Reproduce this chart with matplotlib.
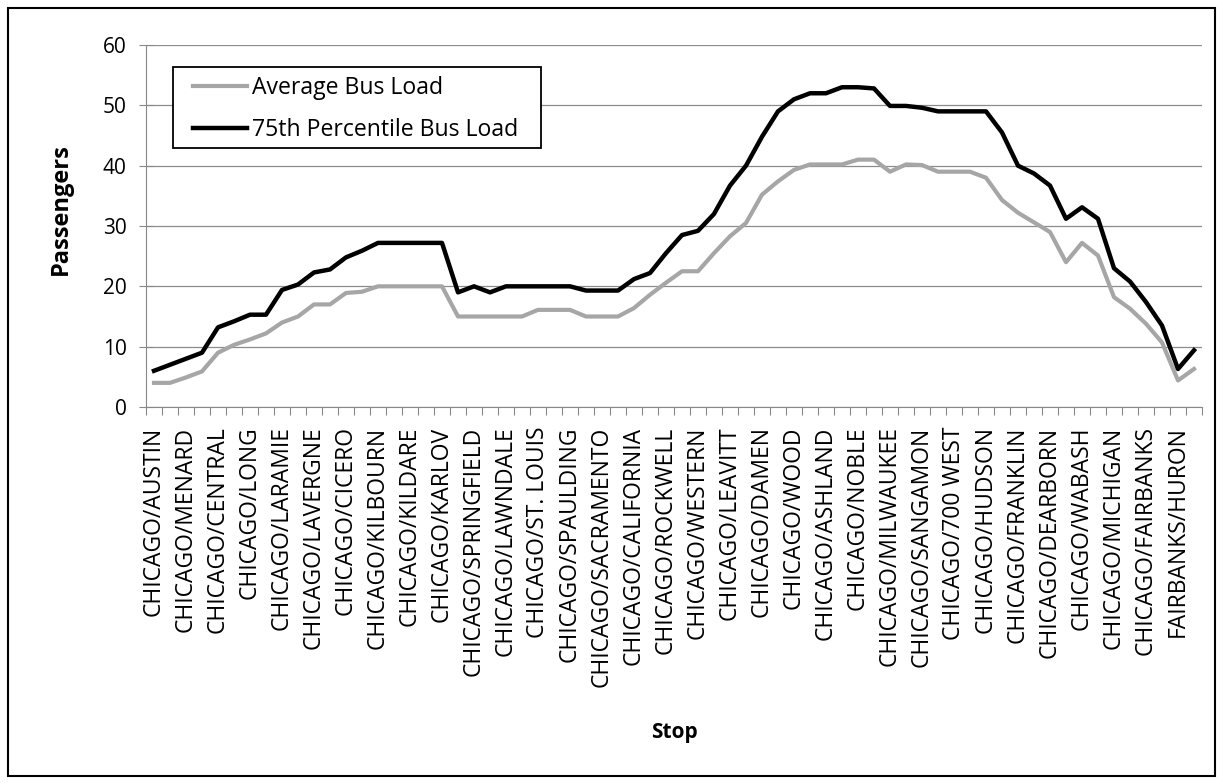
import numpy as np
import matplotlib
matplotlib.use("Agg")
import matplotlib.pyplot as plt
from matplotlib.patches import Rectangle

plt.rcParams['font.family'] = ['Open Sans', 'DejaVu Sans']

# Labelled stops (every other stop carries a label on the category axis)
stop_labels = [
    "CHICAGO/AUSTIN", "CHICAGO/MENARD", "CHICAGO/CENTRAL", "CHICAGO/LONG",
    "CHICAGO/LARAMIE", "CHICAGO/LAVERGNE", "CHICAGO/CICERO", "CHICAGO/KILBOURN",
    "CHICAGO/KILDARE", "CHICAGO/KARLOV", "CHICAGO/SPRINGFIELD", "CHICAGO/LAWNDALE",
    "CHICAGO/ST. LOUIS", "CHICAGO/SPAULDING", "CHICAGO/SACRAMENTO", "CHICAGO/CALIFORNIA",
    "CHICAGO/ROCKWELL", "CHICAGO/WESTERN", "CHICAGO/LEAVITT", "CHICAGO/DAMEN",
    "CHICAGO/WOOD", "CHICAGO/ASHLAND", "CHICAGO/NOBLE", "CHICAGO/MILWAUKEE",
    "CHICAGO/SANGAMON", "CHICAGO/700 WEST", "CHICAGO/HUDSON", "CHICAGO/FRANKLIN",
    "CHICAGO/DEARBORN", "CHICAGO/WABASH", "CHICAGO/MICHIGAN", "CHICAGO/FAIRBANKS",
    "FAIRBANKS/HURON",
]

average_load = [
    4.0, 4.0, 4.9, 5.9, 9.0, 10.3, 11.2, 12.2, 14.0, 15.0,
    17.0, 17.0, 18.9, 19.1, 20.0, 20.0, 20.0, 20.0, 20.0, 15.0,
    15.0, 15.0, 15.0, 15.0, 16.1, 16.1, 16.1, 15.0, 15.0, 15.0,
    16.4, 18.6, 20.6, 22.5, 22.5, 25.5, 28.3, 30.5, 35.2, 37.4,
    39.3, 40.2, 40.2, 40.2, 41.0, 41.0, 39.0, 40.2, 40.1, 39.0,
    39.0, 39.0, 38.0, 34.3, 32.2, 30.6, 29.0, 24.0, 27.2, 25.1,
    18.2, 16.3, 13.8, 10.7, 4.4, 6.3,
]

p75_load = [
    6.0, 7.0, 8.0, 9.0, 13.2, 14.2, 15.3, 15.3, 19.4, 20.3,
    22.3, 22.8, 24.8, 25.9, 27.2, 27.2, 27.2, 27.2, 27.2, 19.0,
    20.0, 19.0, 20.0, 20.0, 20.0, 20.0, 20.0, 19.3, 19.3, 19.3,
    21.2, 22.2, 25.5, 28.5, 29.2, 32.0, 36.7, 40.0, 44.8, 49.0,
    51.0, 52.0, 52.0, 53.0, 53.0, 52.8, 49.9, 49.9, 49.6, 49.0,
    49.0, 49.0, 49.0, 45.5, 40.0, 38.7, 36.7, 31.2, 33.1, 31.2,
    23.0, 20.8, 17.4, 13.5, 6.3, 9.4,
]

y_ticks = [0, 10, 20, 30, 40, 50, 60]

n = len(average_load)
x = np.arange(n)

W, H = 1223, 784
L, R, T, B = 146, 1202, 45, 407
fig = plt.figure(figsize=(W / 100, H / 100), dpi=100)
fig.patch.set_facecolor('white')
ax = fig.add_axes([L / W, 1 - B / H, (R - L) / W, (B - T) / H])


def ax_x(px):
    return (px - L) / (R - L)


def ax_y(py):
    return (B - py) / (B - T)


ax.plot(x, average_load, color='#a6a6a6', lw=3.0, label='Average Bus Load',
        solid_joinstyle='round', zorder=3)
ax.plot(x, p75_load, color='black', lw=3.2, label='75th Percentile Bus Load',
        solid_joinstyle='round', zorder=4)

ax.set_xlim(-0.5, n - 0.5)
ax.set_ylim(0, 60)
ax.set_yticks(y_ticks)
ax.yaxis.grid(True, color='#8c8c8c', lw=0.9)
ax.set_axisbelow(True)

# category labels on every other stop, tick marks between categories
label_pos = x[::2][:len(stop_labels)]
ax.set_xticks(label_pos)
ax.set_xticklabels(stop_labels, rotation=90, fontsize=16.5)
ax.set_xticks(np.arange(-0.5, n, 1.0), minor=True)
ax.tick_params(axis='x', which='major', length=0, pad=14)
ax.tick_params(axis='x', which='minor', direction='out', length=6, width=0.8,
               color='#888888')
ax.tick_params(axis='y', which='major', direction='inout', length=10, width=0.8,
               color='#888888', labelsize=15, pad=9)

for s in ['top', 'right']:
    ax.spines[s].set_visible(False)
ax.spines['left'].set_color('#888888')
ax.spines['bottom'].set_color('#888888')

ax.set_ylabel('Passengers', fontsize=17, fontweight='bold')
ax.set_xlabel('Stop', fontsize=15, fontweight='bold')
ax.xaxis.set_label_coords(0.5, ax_y(722))
ax.yaxis.set_label_coords(ax_x(73), ax_y(209))

# legend box
ax.add_patch(Rectangle((ax_x(173), ax_y(148)), ax_x(541) - ax_x(173),
                       ax_y(67) - ax_y(148), transform=ax.transAxes,
                       facecolor='white', edgecolor='black', lw=1.3,
                       zorder=5, clip_on=False))
leg = ax.legend(loc='upper left', bbox_to_anchor=(ax_x(193), ax_y(76)),
                borderaxespad=0, borderpad=0, fontsize=16.6, frameon=False,
                handlelength=2.35, handletextpad=0.22, labelspacing=0.78)
leg.set_zorder(6)

# outer chart frame
fig.add_artist(Rectangle((8 / W, 1 - 776 / H), (1215 - 8) / W, (776 - 8) / H,
                         transform=fig.transFigure, fill=False,
                         edgecolor='black', lw=1.5))

fig.savefig('out.png', dpi=100)
